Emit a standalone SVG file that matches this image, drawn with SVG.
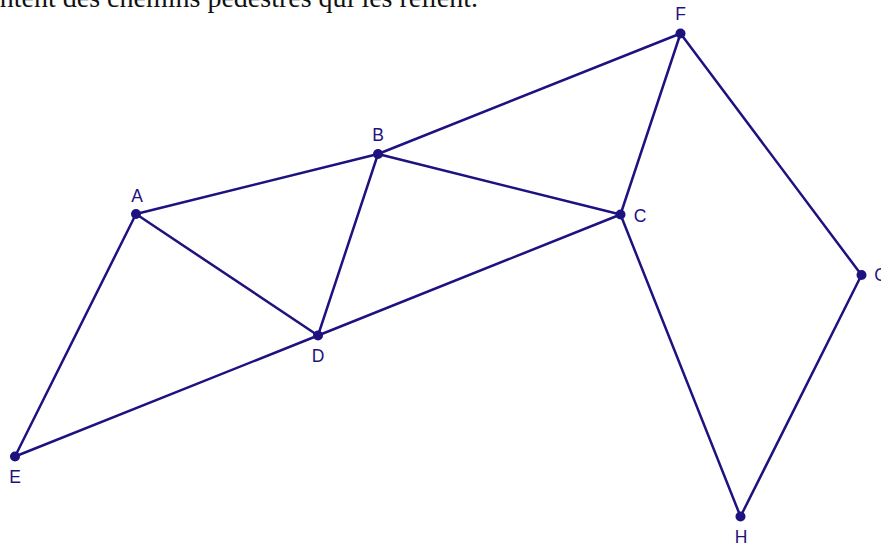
<svg xmlns="http://www.w3.org/2000/svg" width="881" height="546" viewBox="0 0 881 546">
<style>
.e{stroke:#1d1280;stroke-width:2.5;fill:none;stroke-linecap:round}
.p{fill:#1d1280}
.l{fill:#1d1280;font-family:"Liberation Sans",Arial,sans-serif;font-size:17.5px;text-anchor:middle}
.t{fill:#111;font-family:"Liberation Serif","Times New Roman",serif;font-size:28px;text-anchor:end}
</style>
<rect width="881" height="546" fill="#fff"/>
<text class="t" x="478" y="7">présentent des chemins pédestres qui les relient.</text>
<g id="edges">
<line class="e" x1="136" y1="214" x2="378" y2="154"/>
<line class="e" x1="378" y1="154" x2="680.5" y2="33.5"/>
<line class="e" x1="378" y1="154" x2="620.5" y2="214.5"/>
<line class="e" x1="378" y1="154" x2="318" y2="335.5"/>
<line class="e" x1="136" y1="214" x2="318" y2="335.5"/>
<line class="e" x1="136" y1="214" x2="15" y2="456.5"/>
<line class="e" x1="15" y1="456.5" x2="318" y2="335.5"/>
<line class="e" x1="318" y1="335.5" x2="620.5" y2="214.5"/>
<line class="e" x1="620.5" y1="214.5" x2="680.5" y2="33.5"/>
<line class="e" x1="680.5" y1="33.5" x2="861.5" y2="275"/>
<line class="e" x1="861.5" y1="275" x2="740.5" y2="516.5"/>
<line class="e" x1="620.5" y1="214.5" x2="740.5" y2="516.5"/>
</g>
<g id="A"><circle class="p" cx="136" cy="214" r="5"/><text class="l" x="137" y="202">A</text></g>
<g id="B"><circle class="p" cx="378" cy="154" r="5"/><text class="l" x="378" y="141">B</text></g>
<g id="C"><circle class="p" cx="620.5" cy="214.5" r="5"/><text class="l" x="640" y="222">C</text></g>
<g id="D"><circle class="p" cx="318" cy="335.5" r="5"/><text class="l" x="318" y="362">D</text></g>
<g id="E"><circle class="p" cx="15" cy="456.5" r="5"/><text class="l" x="15" y="483">E</text></g>
<g id="F"><circle class="p" cx="680.5" cy="33.5" r="5"/><text class="l" x="680.5" y="20">F</text></g>
<g id="G"><circle class="p" cx="861.5" cy="275" r="5"/><text class="l" x="881" y="281">G</text></g>
<g id="H"><circle class="p" cx="740.5" cy="516.5" r="5"/><text class="l" x="741" y="543">H</text></g>
</svg>
